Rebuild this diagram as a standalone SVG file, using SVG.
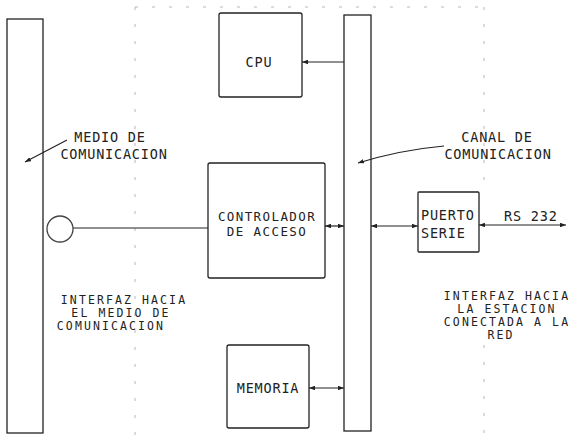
<svg xmlns="http://www.w3.org/2000/svg" width="574" height="436" viewBox="0 0 574 436">
<style>
.box{fill:none;stroke:#222;stroke-width:1.3}
.bar{fill:none;stroke:#222;stroke-width:1.3}
.guide{fill:none;stroke:#b8b8b8;stroke-width:1;stroke-dasharray:3 14}
.ln{fill:none;stroke:#222;stroke-width:1.2}
text{font-family:"DejaVu Sans Mono","Liberation Mono",monospace;font-size:13.5px;fill:#222;letter-spacing:0.8px}
.s{font-size:11.5px;letter-spacing:2.1px}
.m{font-size:12.5px;letter-spacing:1.4px}
.c{text-anchor:middle}
</style>
<defs>
<marker id="ah" viewBox="0 0 8 6" refX="8" refY="3" markerWidth="6" markerHeight="4.5" orient="auto-start-reverse" markerUnits="userSpaceOnUse">
<path d="M0,0 L8,3 L0,6 Z" fill="#222"/>
</marker>
</defs>
<g id="guides">
<path class="guide" d="M135,7 H484"/>
<path class="guide" d="M135,7 V436"/>
<path class="guide" d="M484,7 V180"/>
<path class="guide" d="M484,345 V436"/>
</g>
<g id="medio">
<rect class="bar" x="7" y="19" width="36" height="414"/>
</g>
<g id="canal">
<rect class="bar" x="344" y="15" width="27" height="416"/>
</g>
<g id="cpu">
<rect class="box" x="219" y="13" width="83" height="84" rx="2"/>
<text class="c" x="259" y="67">CPU</text>
</g>
<g id="controlador">
<rect class="box" x="208" y="163" width="117" height="115" rx="2"/>
<text class="c m" x="267" y="221">CONTROLADOR</text>
<text class="c m" x="267" y="236">DE ACCESO</text>
</g>
<g id="memoria">
<rect class="box" x="227" y="345" width="82" height="83" rx="2"/>
<text class="c" x="268" y="393">MEMORIA</text>
</g>
<g id="puerto">
<rect class="box" x="418" y="192" width="61" height="60" rx="1"/>
<text x="421" y="220">PUERTO</text>
<text x="421" y="238">SERIE</text>
</g>
<g id="interfaz">
<circle cx="60" cy="229" r="13" fill="none" stroke="#444" stroke-width="1.3"/>
</g>
<g id="connectors">
<path class="ln" d="M344,62 H302" marker-end="url(#ah)"/>
<path class="ln" d="M73,228 H208"/>
<path class="ln" d="M325,226 H344" marker-start="url(#ah)" marker-end="url(#ah)"/>
<path class="ln" d="M371,226 H418" marker-start="url(#ah)" marker-end="url(#ah)"/>
<path class="ln" d="M479,225 H566" marker-start="url(#ah)" marker-end="url(#ah)"/>
<path class="ln" d="M309,388 H344" marker-start="url(#ah)" marker-end="url(#ah)"/>
<path class="ln" d="M67,140 L25,162" marker-end="url(#ah)"/>
<path class="ln" d="M444,146 Q400,150 358,163" marker-end="url(#ah)"/>
</g>
<g id="labels">
<text class="c" x="110" y="142">MEDIO DE</text>
<text class="c" x="114" y="159">COMUNICACION</text>
<text class="c" x="497" y="142">CANAL DE</text>
<text class="c" x="498" y="159">COMUNICACION</text>
<text x="504" y="221">RS 232</text>
<text class="c s" x="124" y="304">INTERFAZ HACIA</text>
<text class="c s" x="121" y="317">EL  MEDIO DE</text>
<text class="c s" x="111" y="330">COMUNICACION</text>
<text class="c s" x="507" y="300">INTERFAZ HACIA</text>
<text class="c s" x="507" y="313">LA  ESTACION</text>
<text class="c s" x="507" y="326">CONECTADA A LA</text>
<text class="c s" x="501" y="339">RED</text>
</g>
</svg>
